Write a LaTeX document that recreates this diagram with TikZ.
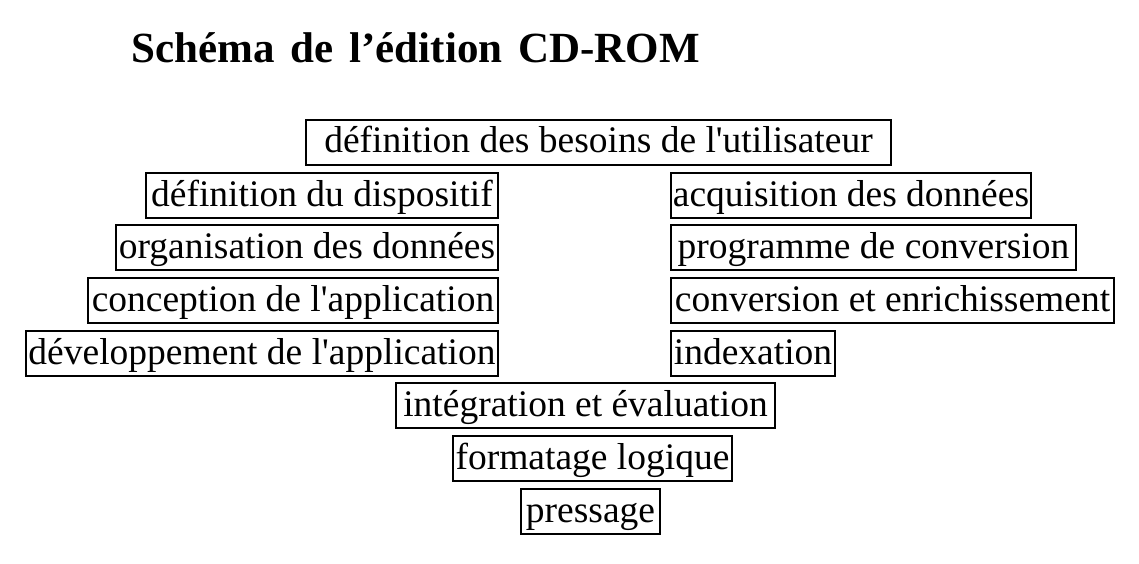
\documentclass[tikz,border=0pt]{standalone}
\usepackage{fontspec}
\setmainfont{Liberation Serif}
\newcommand{\ap}{\textquotesingle}
\begin{document}
\begin{tikzpicture}[x=1pt,y=-1pt,
  stepbox/.style={draw=black, line width=1.6pt, inner sep=0pt, minimum height=45pt,
    text height=29pt, text depth=8pt,
    font=\fontsize{37.5}{37.5}\selectfont, text=black},
  titletext/.style={inner sep=0pt, anchor=base west, font=\fontsize{43}{43}\selectfont\bfseries}]
\useasboundingbox (0,0) rectangle (1139,564);
\node[titletext] (title) at (131,63) {Schéma\hspace{16pt}de\hspace{16pt}l’édition\hspace{16pt}CD-ROM};
\node[stepbox, minimum width=585pt] (b1) at (598.5,142.5) {définition des besoins de l\ap utilisateur};
\node[stepbox, minimum width=352pt] (b2) at (322,195.5) {définition du dispositif};
\node[stepbox, minimum width=360pt] (b3) at (851,195.5) {acquisition des données};
\node[stepbox, minimum width=382pt] (b4) at (307,247.5) {organisation des données};
\node[stepbox, minimum width=405pt] (b5) at (873.5,247.5) {programme de conversion};
\node[stepbox, minimum width=410pt] (b6) at (293,300.5) {conception de l\ap application};
\node[stepbox, minimum width=443pt] (b7) at (892.5,300.5) {conversion et enrichissement};
\node[stepbox, minimum width=472pt] (b8) at (262,353.5) {développement de l\ap application};
\node[stepbox, minimum width=164pt] (b9) at (753,353.5) {indexation};
\node[stepbox, minimum width=379pt] (b10) at (585.5,405.5) {intégration et évaluation};
\node[stepbox, minimum width=279pt] (b11) at (592.5,458.5) {formatage logique};
\node[stepbox, minimum width=139pt] (b12) at (590.5,511.5) {pressage};
\end{tikzpicture}
\end{document}
